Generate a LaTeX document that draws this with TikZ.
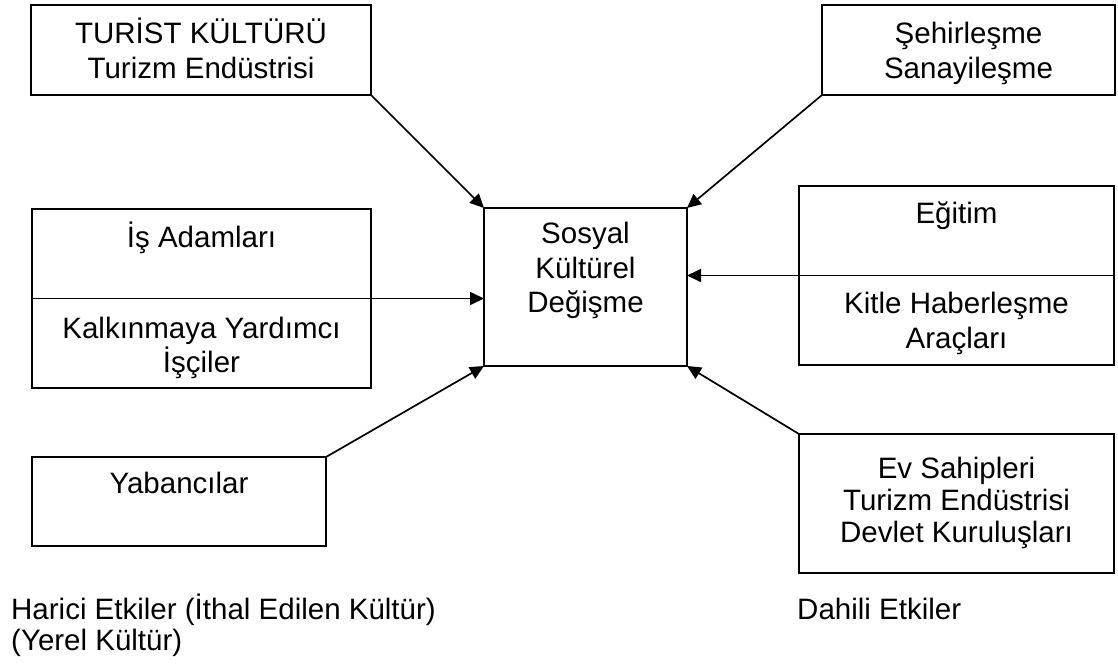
\documentclass[tikz,border=0pt]{standalone}
\usepackage{fontspec}
\setmainfont{Liberation Sans}
\usetikzlibrary{arrows.meta}
\begin{document}
\begin{tikzpicture}[x=1pt,y=-1pt,
  box/.style={draw, line width=1.8pt, rectangle, inner sep=0pt, outer sep=0pt, anchor=north west},
  lbl/.style={anchor=base, inner sep=0pt, font=\fontsize{29.5}{34}\selectfont},
  llbl/.style={anchor=base west, inner sep=0pt, font=\fontsize{29.5}{34}\selectfont},
  arr/.style={line width=1.7pt, -{Triangle[length=14pt,width=13pt]}}]
\useasboundingbox (0,0) rectangle (1118,664);
\fill[white] (0,0) rectangle (1118,664);
% boxes
\node[box, minimum width=340pt, minimum height=90pt] (tur) at (31,5) {};
\node[box, minimum width=293pt, minimum height=90pt] (seh) at (822,5) {};
\node[box, minimum width=339pt, minimum height=179pt] (is) at (32,209) {};
\node[box, minimum width=203pt, minimum height=158pt] (soc) at (484,208) {};
\node[box, minimum width=315pt, minimum height=179pt] (egi) at (799,186) {};
\node[box, minimum width=294pt, minimum height=89pt] (yab) at (32,457) {};
\node[box, minimum width=315pt, minimum height=139pt] (ev) at (799,434) {};
% texts
\node[lbl] (t1) at (201,43) {TURİST KÜLTÜRÜ};
\node[lbl] (t2) at (201,78) {Turizm Endüstrisi};
\node[lbl] (s1) at (968.5,43) {Şehirleşme};
\node[lbl] (s2) at (968.5,78) {Sanayileşme};
\node[lbl] (i1) at (201.5,247) {İş Adamları};
\node[lbl] (i2) at (201.5,338) {Kalkınmaya Yardımcı};
\node[lbl] (i3) at (201.5,372) {İşçiler};
\node[lbl] (c1) at (585.5,243) {Sosyal};
\node[lbl] (c2) at (585.5,278) {Kültürel};
\node[lbl] (c3) at (585.5,312) {Değişme};
\node[lbl] (e1) at (956.5,223) {Eğitim};
\node[lbl] (e2) at (956.5,313) {Kitle Haberleşme};
\node[lbl] (e3) at (956.5,348) {Araçları};
\node[lbl] (y1) at (179,493) {Yabancılar};
\node[lbl] (v1) at (956.5,478) {Ev Sahipleri};
\node[lbl] (v2) at (956.5,510) {Turizm Endüstrisi};
\node[lbl] (v3) at (956.5,542) {Devlet Kuruluşları};
\node[llbl] (h1) at (11,619) {Harici Etkiler (İthal Edilen Kültür)};
\node[llbl] (h2) at (11,650) {(Yerel Kültür)};
\node[llbl] (d1) at (797,619) {Dahili Etkiler};
% arrows
\draw[arr] (tur.south east) -- (soc.north west);
\draw[arr] (seh.south west) -- (soc.north east);
\draw[arr] (is.west) -- (is.west -| soc.west);
\draw[arr] (egi.east) -- (egi.east -| soc.east);
\draw[arr] (yab.north east) -- (soc.south west);
\draw[arr] (ev.north west) -- (soc.south east);
\end{tikzpicture}
\end{document}
